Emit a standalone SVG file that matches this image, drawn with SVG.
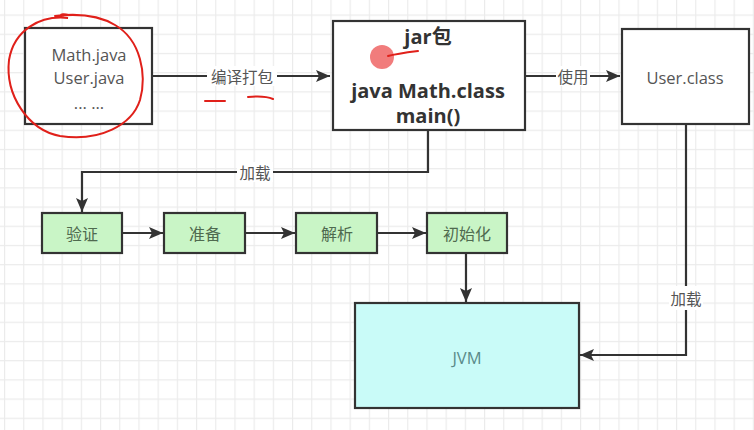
<svg xmlns="http://www.w3.org/2000/svg" width="754" height="430" viewBox="0 0 754 430">
<defs>
<pattern id="grid" x="4" y="14.5" width="19.2" height="19.2" patternUnits="userSpaceOnUse">
<path d="M0 0.5 H19.2 M0.5 0 V19.2" fill="none" stroke="#ebebeb" stroke-width="1.3"/>
</pattern>
<marker id="arrL" viewBox="0 0 14 12" refX="14" refY="6" markerWidth="14" markerHeight="12" markerUnits="userSpaceOnUse" orient="auto">
<path d="M0 0 L14 6 L0 12 L3 6 Z" fill="#333"/>
</marker>
</defs>
<style>
.box{fill:#fff;stroke:#333;stroke-width:2.2}
.green{fill:#c9f5c6;stroke:#333;stroke-width:2.2}
.cyan{fill:#c9fbf8;stroke:#333;stroke-width:2.2}
.t{font-family:"Open Sans","Noto Sans CJK SC",sans-serif;font-size:16.5px;fill:#555;text-anchor:middle;dominant-baseline:central}
.b{font-family:"Open Sans","Noto Sans CJK SC",sans-serif;font-size:20px;font-weight:bold;fill:#333;text-anchor:middle;dominant-baseline:central}
.gt{font-family:"Noto Sans CJK SC",sans-serif;font-size:16px;fill:#4f6a4f;text-anchor:middle;dominant-baseline:central}
.lbl{font-family:"Noto Sans CJK SC",sans-serif;font-size:15.5px;fill:#555;text-anchor:middle;dominant-baseline:central}
.lblbg{fill:#fff}
.c{fill:none;stroke:#333;stroke-width:2.2}
.red{fill:none;stroke:#e0201a;stroke-width:2;stroke-linecap:round}
</style>
<rect width="754" height="430" fill="#fff"/>
<rect width="754" height="430" fill="url(#grid)"/>

<g id="connectors">
<path class="c" d="M152 76 H330" marker-end="url(#arrL)"/>
<rect class="lblbg" x="207" y="66" width="70" height="20"/>
<text class="lbl" x="242" y="76">编译打包</text>

<path class="c" d="M525 76 H620" marker-end="url(#arrL)"/>
<rect class="lblbg" x="556" y="66" width="34" height="20"/>
<text class="lbl" x="573" y="76">使用</text>

<path class="c" d="M428 130 V172 H82 V212" marker-end="url(#arrL)"/>
<rect class="lblbg" x="237" y="162" width="36" height="20"/>
<text class="lbl" x="255" y="172">加载</text>

<path class="c" d="M122 233 H163" marker-end="url(#arrL)"/>
<path class="c" d="M245 233 H295" marker-end="url(#arrL)"/>
<path class="c" d="M377 233 H426" marker-end="url(#arrL)"/>
<path class="c" d="M466 253 V302" marker-end="url(#arrL)"/>

<path class="c" d="M686 124 V355 H580" marker-end="url(#arrL)"/>
<rect class="lblbg" x="669" y="286" width="34" height="24"/>
<text class="lbl" x="686" y="298">加载</text>
</g>

<g id="node-source">
<rect class="box" x="25" y="28" width="127" height="96"/>
<text class="t" x="89" y="54">Math.java</text>
<text class="t" x="89" y="77">User.java</text>
<text class="t" x="89" y="102">... ...</text>
</g>

<g id="node-jar">
<rect class="box" x="333" y="21" width="192" height="109"/>
<text class="b" x="428" y="36">jar包</text>
<text class="b" x="428" y="90">java Math.class</text>
<text class="b" x="428" y="115">main()</text>
</g>

<g id="node-userclass">
<rect class="box" x="622" y="29" width="127" height="95"/>
<text class="t" x="685" y="77">User.class</text>
</g>

<g id="node-verify">
<rect class="green" x="42" y="213" width="80" height="40"/>
<text class="gt" x="82" y="233">验证</text>
</g>
<g id="node-prepare">
<rect class="green" x="164" y="213" width="81" height="40"/>
<text class="gt" x="205" y="233">准备</text>
</g>
<g id="node-resolve">
<rect class="green" x="296" y="213" width="81" height="40"/>
<text class="gt" x="337" y="233">解析</text>
</g>
<g id="node-init">
<rect class="green" x="427" y="213" width="80" height="40"/>
<text class="gt" x="467" y="233">初始化</text>
</g>

<g id="node-jvm">
<rect class="cyan" x="355" y="303" width="224" height="105"/>
<text class="t" x="467" y="357" style="fill:#5a8a8a">JVM</text>
</g>

<g id="annotations">
<path class="red" d="M68 15 C60 12 56 18 68 18 C40 15 14 30 9 60 C5 95 28 130 60 136 C100 142 132 125 140 100 C147 75 141 40 115 25 C100 16 80 13 55 16"/>
<path class="red" d="M205 101 L225 101 M248 97 C258 96 266 96 273 99"/>
<circle cx="382" cy="57" r="12" fill="#ec5050" opacity="0.75"/>
<path class="red" d="M388 56 C395 54 402 53 418 51" stroke-width="2.5"/>
</g>
</svg>
